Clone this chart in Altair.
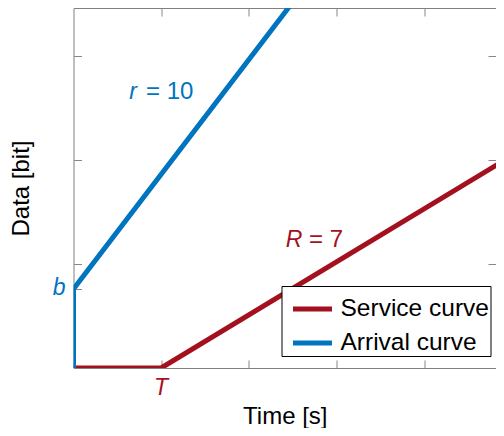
import altair as alt
import pandas as pd

FONT = "Liberation Sans"

# Curves (x in tick units, y in tick units)
service_x = [0.0, 1.0, 4.94]
service_y = [0.0, 0.0, 2.01]
arrival_x = [0.0, 0.0, 2.49]
arrival_y = [0.0, 0.76, 3.505]
series_names = ["Service curve", "Arrival curve"]
series_colors = ["#A3111F", "#0074BF"]

# Annotation labels
var_labels = ["r", "R", "b", "T"]
var_x = [0.679, 2.516, -0.165, 0.998]
var_y = [2.587, 1.168, 0.702, -0.26]
var_colors = ["#0074BF", "#A3111F", "#0074BF", "#A3111F"]
eq_labels = ["= 10", "= 7"]
eq_x = [0.827, 2.687]
eq_y = [2.587, 1.168]
eq_colors = ["#0074BF", "#A3111F"]

x_ticks = [1, 2, 3, 4]
y_ticks_left = [0.76, 1, 2, 3]
y_ticks_right = [1, 2, 3]
x_domain = [0, 4.82]
y_domain = [0, 3.4615]

service = pd.DataFrame({"x": service_x, "y": service_y, "series": series_names[0],
                        "o": range(len(service_x))})
arrival = pd.DataFrame({"x": arrival_x, "y": arrival_y, "series": series_names[1],
                        "o": range(len(arrival_x))})
vars_df = pd.DataFrame({"label": var_labels, "x": var_x, "y": var_y, "c": var_colors})
eq_df = pd.DataFrame({"label": eq_labels, "x": eq_x, "y": eq_y, "c": eq_colors})

xs = alt.Scale(domain=x_domain, nice=False, zero=False)
ys = alt.Scale(domain=y_domain, nice=False, zero=False)
color = alt.Color("series:N",
                  scale=alt.Scale(domain=series_names, range=series_colors),
                  legend=alt.Legend(
                      title=None, orient="none", legendX=208, legendY=278,
                      symbolType="stroke", symbolSize=1521, symbolStrokeWidth=5,
                      labelFont=FONT, labelFontSize=24.5, labelColor="black",
                      padding=1, rowPadding=-8, labelOffset=6, symbolOffset=8,
                      labelLimit=400,
                      fillColor="white", strokeColor="black", cornerRadius=0,
                  ))

common_axis = dict(labels=False, domain=False, grid=False, ticks=True,
                   tickSize=8, offset=-8, tickColor="#888", tickWidth=1)

red = alt.Chart(service).mark_line(strokeWidth=5, clip=True).encode(
    x=alt.X("x:Q", scale=xs, axis=alt.Axis(orient="bottom", values=x_ticks,
            title="Time [s]", titleFont=FONT, titleFontSize=24,
            titleFontWeight="normal", titleColor="black", titlePadding=36,
            **common_axis)),
    y=alt.Y("y:Q", scale=ys, axis=alt.Axis(orient="left", values=y_ticks_left,
            title="Data [bit]", titleFont=FONT, titleFontSize=24,
            titleFontWeight="normal", titleColor="black", titlePadding=40,
            **common_axis)),
    color=color,
    order="o:Q",
)

blue = alt.Chart(arrival).mark_line(strokeWidth=5, clip=True).encode(
    x=alt.X("x:Q", scale=xs, axis=alt.Axis(orient="top", values=x_ticks,
            title=None, **common_axis)),
    y=alt.Y("y:Q", scale=ys, axis=alt.Axis(orient="right", values=y_ticks_right,
            title=None, **common_axis)),
    color=color,
    order="o:Q",
)

vars_text = alt.Chart(vars_df).mark_text(
    font=FONT, fontSize=23, fontStyle="italic", align="center", baseline="alphabetic"
).encode(
    x=alt.X("x:Q", scale=xs, axis=None),
    y=alt.Y("y:Q", scale=ys, axis=None),
    text="label:N",
    color=alt.Color("c:N", scale=None),
)

eq_text = alt.Chart(eq_df).mark_text(
    font=FONT, fontSize=24, align="left", baseline="alphabetic"
).encode(
    x=alt.X("x:Q", scale=xs, axis=None),
    y=alt.Y("y:Q", scale=ys, axis=None),
    text="label:N",
    color=alt.Color("c:N", scale=None),
)

chart = alt.layer(red, blue, vars_text, eq_text).properties(
    width=422.5, height=360,
    autosize=alt.AutoSizeParams(type="none"),
    padding={"left": 65.5, "top": 0, "right": 0, "bottom": 60},
).configure_view(stroke="#808080", strokeWidth=1)

chart.save("out.html", embed_options={"renderer": "svg", "actions": False})
